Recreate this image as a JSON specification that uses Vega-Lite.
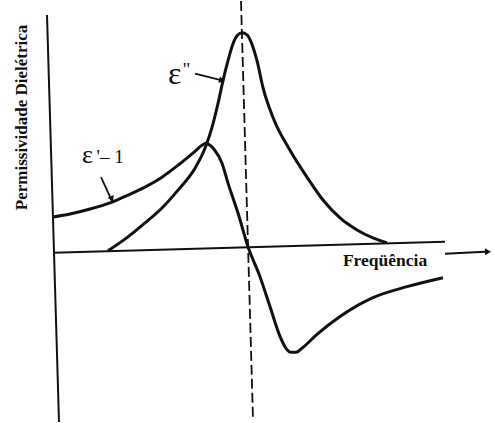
{
  "$schema": "https://vega.github.io/schema/vega-lite/v6.json",
  "width": 495,
  "height": 423,
  "padding": 0,
  "autosize": {"type": "fit", "contains": "padding"},
  "background": "white",
  "config": {"view": {"stroke": null}},
  "datasets": {
    "epsLoss": [
      {"f": 21.6, "v": 0.01}, {"f": 25.6, "v": 0.15}, {"f": 29.0, "v": 0.29},
      {"f": 32.4, "v": 0.44}, {"f": 35.6, "v": 0.62}, {"f": 39.0, "v": 0.84},
      {"f": 41.0, "v": 1.04}, {"f": 42.4, "v": 1.25}, {"f": 43.6, "v": 1.49},
      {"f": 44.6, "v": 1.72}, {"f": 45.6, "v": 1.92}, {"f": 46.6, "v": 2.09},
      {"f": 47.4, "v": 2.17}, {"f": 48.4, "v": 2.20}, {"f": 49.4, "v": 2.18},
      {"f": 50.2, "v": 2.11}, {"f": 51.4, "v": 1.92}, {"f": 52.6, "v": 1.65},
      {"f": 54.6, "v": 1.35}, {"f": 58.0, "v": 1.02}, {"f": 61.4, "v": 0.75},
      {"f": 64.6, "v": 0.52}, {"f": 68.0, "v": 0.34}, {"f": 71.4, "v": 0.22},
      {"f": 74.6, "v": 0.14}, {"f": 77.4, "v": 0.09}
    ],
    "epsReal": [
      {"f": 10.6, "v": 0.35}, {"f": 14.0, "v": 0.38}, {"f": 18.0, "v": 0.43},
      {"f": 22.4, "v": 0.50}, {"f": 25.6, "v": 0.57}, {"f": 29.0, "v": 0.65},
      {"f": 32.4, "v": 0.75}, {"f": 35.6, "v": 0.87}, {"f": 39.0, "v": 1.01},
      {"f": 40.4, "v": 1.07}, {"f": 41.2, "v": 1.09}, {"f": 42.0, "v": 1.07},
      {"f": 42.8, "v": 1.03}, {"f": 44.4, "v": 0.89}, {"f": 45.6, "v": 0.69},
      {"f": 47.6, "v": 0.39}, {"f": 49.6, "v": 0.05}, {"f": 52.0, "v": -0.25},
      {"f": 54.0, "v": -0.55}, {"f": 56.0, "v": -0.85}, {"f": 57.2, "v": -0.97},
      {"f": 58.2, "v": -1.01}, {"f": 59.2, "v": -1.01}, {"f": 60.6, "v": -0.96},
      {"f": 63.4, "v": -0.83}, {"f": 68.0, "v": -0.65}, {"f": 74.6, "v": -0.46},
      {"f": 81.4, "v": -0.35}, {"f": 88.6, "v": -0.26}
    ],
    "segments": [
      {"kind": "axis", "f": 9.4, "v": 2.38, "f2": 11.8, "v2": -1.71},
      {"kind": "axis", "f": 10.6, "v": -0.01, "f2": 89.0, "v2": 0.10},
      {"kind": "axis", "f": 89.0, "v": -0.02, "f2": 97.0, "v2": 0.0},
      {"kind": "resonance", "f": 48.2, "v": 2.52, "f2": 50.6, "v2": -1.68},
      {"kind": "pointer", "f": 39.0, "v": 1.79, "f2": 44.6, "v2": 1.72},
      {"kind": "pointer", "f": 20.2, "v": 0.75, "f2": 22.4, "v2": 0.51}
    ],
    "labels": [
      {"label": "ε", "f": 33.6, "v": 1.69, "size": "big"},
      {"label": "''", "f": 36.6, "v": 1.765, "size": "small"},
      {"label": "ε", "f": 16.4, "v": 0.89, "size": "mid"},
      {"label": "'– 1", "f": 19.3, "v": 0.89, "size": "small"}
    ]
  },
  "encoding": {
    "x": {"field": "f", "type": "quantitative", "axis": null,
          "scale": {"domain": [0, 99], "nice": false, "zero": false}},
    "y": {"field": "v", "type": "quantitative", "axis": null,
          "scale": {"domain": [-1.71, 2.52], "nice": false, "zero": false}}
  },
  "layer": [
    {
      "data": {"name": "segments"},
      "transform": [{"filter": "datum.kind === 'axis'"}],
      "mark": {"type": "rule", "color": "#111", "strokeWidth": 2},
      "encoding": {"x2": {"field": "f2"}, "y2": {"field": "v2"}}
    },
    {
      "data": {"name": "segments"},
      "transform": [{"filter": "datum.kind === 'resonance'"}],
      "mark": {"type": "rule", "color": "#111", "strokeWidth": 1.8, "strokeDash": [10, 4]},
      "encoding": {"x2": {"field": "f2"}, "y2": {"field": "v2"}}
    },
    {
      "data": {"name": "segments"},
      "transform": [{"filter": "datum.kind === 'pointer'"}],
      "mark": {"type": "rule", "color": "#111", "strokeWidth": 1.8},
      "encoding": {"x2": {"field": "f2"}, "y2": {"field": "v2"}}
    },
    {
      "data": {"name": "epsLoss"},
      "mark": {"type": "line", "color": "#111", "strokeWidth": 3, "interpolate": "monotone"}
    },
    {
      "data": {"name": "epsReal"},
      "mark": {"type": "line", "color": "#111", "strokeWidth": 3, "interpolate": "monotone"}
    },
    {
      "data": {"values": [{"f": 44.2, "v": 1.725}]},
      "mark": {"type": "point", "shape": "triangle", "angle": 105, "filled": true, "color": "#111", "opacity": 1, "size": 45}
    },
    {
      "data": {"values": [{"f": 22.3, "v": 0.54}]},
      "mark": {"type": "point", "shape": "triangle", "angle": 155, "filled": true, "color": "#111", "opacity": 1, "size": 45}
    },
    {
      "data": {"values": [{"f": 97.4, "v": 0.0}]},
      "mark": {"type": "point", "shape": "triangle", "angle": 90, "filled": true, "color": "#111", "opacity": 1, "size": 50}
    },
    {
      "data": {"values": [{"label": "Permissividade  Dielétrica", "f": 4.4, "v": 1.35}]},
      "mark": {"type": "text", "angle": 270, "align": "center", "baseline": "middle",
               "font": "Liberation Serif", "fontWeight": "bold", "fontSize": 17, "color": "#111"},
      "encoding": {"text": {"field": "label"}}
    },
    {
      "data": {"values": [{"label": "Freqüência", "f": 77.0, "v": -0.14}]},
      "mark": {"type": "text", "align": "center", "baseline": "alphabetic",
               "font": "Liberation Serif", "fontWeight": "bold", "fontSize": 17.5, "color": "#111"},
      "encoding": {"text": {"field": "label"}}
    },
    {
      "data": {"name": "labels"},
      "transform": [{"filter": "datum.size === 'big'"}],
      "mark": {"type": "text", "align": "left", "baseline": "alphabetic",
               "font": "Liberation Serif", "fontSize": 32, "color": "#111"},
      "encoding": {"text": {"field": "label"}}
    },
    {
      "data": {"name": "labels"},
      "transform": [{"filter": "datum.size === 'mid'"}],
      "mark": {"type": "text", "align": "left", "baseline": "alphabetic",
               "font": "Liberation Serif", "fontSize": 26, "color": "#111"},
      "encoding": {"text": {"field": "label"}}
    },
    {
      "data": {"name": "labels"},
      "transform": [{"filter": "datum.size === 'small'"}],
      "mark": {"type": "text", "align": "left", "baseline": "alphabetic",
               "font": "Liberation Serif", "fontSize": 19, "color": "#111"},
      "encoding": {"text": {"field": "label"}}
    }
  ]
}
